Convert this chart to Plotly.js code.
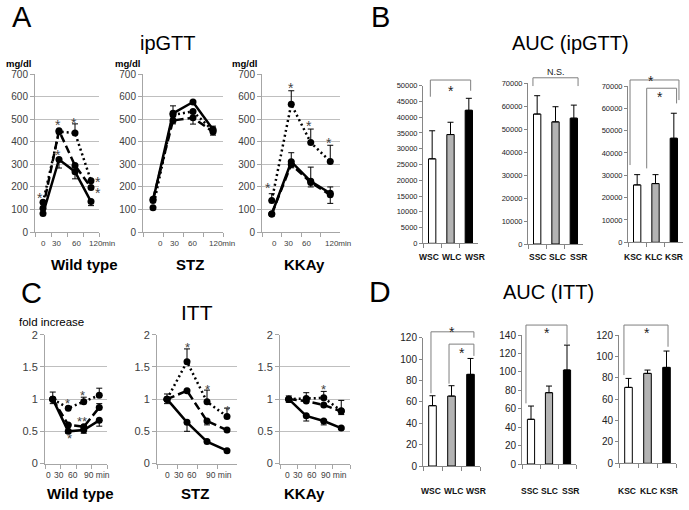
<!DOCTYPE html>
<html><head><meta charset="utf-8">
<script src="https://cdn.plot.ly/plotly-3.0.1.min.js"></script>
<style>html,body{margin:0;padding:0;background:#fff}#chart{width:689px;height:510px}</style>
</head><body><div id="chart"></div>
<script>
const W = 689, H = 510;
const FONT = 'Liberation Sans, Arial, Helvetica, sans-serif';

// ---------------- data ----------------
const gttTimes = ['0', '30', '60', '120'];
const ittTimes = ['0', '30', '60', '90'];
const gttTickText = ['0', '30', '60', '120min'];
const ittTickText = ['0', '30', '60', '90 min'];
const strainNames = ['Wild type', 'STZ', 'KKAy'];
const groupsWT = ['WSC', 'WLC', 'WSR'];
const groupsSTZ = ['SSC', 'SLC', 'SSR'];
const groupsKK = ['KSC', 'KLC', 'KSR'];
const none4 = [0, 0, 0, 0];

// ipGTT blood glucose (mg/dl): SC solid, LC dashed, SR dotted
const gttWT_SC = [82, 322, 268, 135];   const gttWT_SC_dn = [0, 38, 32, 18];
const gttWT_LC = [105, 450, 295, 198];
const gttWT_SR = [132, 445, 440, 228];  const gttWT_SR_up = [0, 0, 40, 0];
const gttSTZ_SC = [140, 527, 577, 455]; const gttSTZ_SC_up = [0, 33, 0, 15];
const gttSTZ_LC = [145, 495, 507, 445]; const gttSTZ_LC_dn = [0, 15, 28, 15];
const gttSTZ_SR = [108, 520, 535, 450];
const gttKK_SC = [80, 312, 225, 172];   const gttKK_SC_up = [0, 40, 0, 28];
const gttKK_LC = [80, 300, 220, 165];   const gttKK_LC_up = [0, 0, 68, 0]; const gttKK_LC_dn = [0, 15, 20, 38];
const gttKK_SR = [140, 567, 397, 313];  const gttKK_SR_up = [30, 60, 60, 72];

// ITT fold increase
const ittWT_SC = [1.0, 0.50, 0.52, 0.67];  const ittWT_SC_dn = [0.07, 0.03, 0.05, 0.09];
const ittWT_LC = [1.0, 0.60, 0.57, 0.87];  const ittWT_LC_up = [0, 0, 0, 0.06];
const ittWT_SR = [1.0, 0.86, 0.96, 1.06];  const ittWT_SR_up = [0.11, 0, 0.07, 0.11];
const ittSTZ_SC = [1.0, 0.64, 0.34, 0.20]; const ittSTZ_SC_up = [0.08, 0, 0, 0]; const ittSTZ_SC_dn = [0.07, 0.14, 0, 0];
const ittSTZ_LC = [1.0, 1.13, 0.66, 0.52]; const ittSTZ_LC_dn = [0, 0, 0.06, 0];
const ittSTZ_SR = [1.0, 1.58, 0.96, 0.73]; const ittSTZ_SR_up = [0, 0.20, 0.18, 0.13];
const ittKK_SC = [1.0, 0.74, 0.66, 0.55];  const ittKK_SC_dn = [0.05, 0.08, 0.06, 0.02];
const ittKK_LC = [1.0, 0.97, 0.91, 0.81];  const ittKK_LC_dn = [0, 0, 0, 0.05];
const ittKK_SR = [1.0, 1.01, 1.02, 0.82];  const ittKK_SR_up = [0.05, 0.09, 0.10, 0.16];

// AUC values and upper error
const aucGttWT = [26800, 34500, 42200];  const aucGttWT_err = [8900, 3900, 3800];
const aucGttSTZ = [56600, 53200, 54800]; const aucGttSTZ_err = [8000, 6600, 5700];
const aucGttKK = [25700, 26300, 46600];  const aucGttKK_err = [4600, 4000, 11200];
const aucIttWT = [56.4, 65.4, 85.7];     const aucIttWT_err = [9.3, 9.7, 14.9];
const aucIttSTZ = [48.5, 77.4, 102];     const aucIttSTZ_err = [14.4, 7.2, 27];
const aucIttKK = [71, 84.1, 89.7];       const aucIttKK_err = [8.4, 3.1, 15.3];

// significance marks: [category index, value, text]
const starsA1 = [[-0.19, 164, '*'], [0.94, 489, '*'], [0.94, 356, '*'], [1.94, 496, '*'], [3.44, 238, '*'], [3.42, 186, '*']];
const starsA3 = [[-0.19, 208, '*'], [0.99, 651, '*'], [1.91, 483, '*'], [2.94, 408, '*']];
const starsC1 = [[0.98, 0.98, '*'], [1.95, 1.10, '*'], [1.89, 0.69, '**'], [1.05, 0.44, '*']];
const starsC2 = [[1.04, 1.85, '*'], [2.04, 1.20, '*'], [3.02, 0.87, '*']];
const starsC3 = [[1.96, 1.19, '*']];
// brackets: [x0, x1, top, leftEnd, rightEnd, labelX, labelY, label]
const sigB1 = [[-0.1, 2.1, 51800, 46500, 48400, 1.0, 49460, '*']];
const sigB2 = [[-0.23, 2.23, 72400, 68800, 68800, 1.0, 74900, 'N.S.']];
const sigB3 = [[-0.39, 2.28, 72700, 34600, 63700, 0.75, 73900, '*'], [0.52, 2.15, 69000, 33100, 62200, 1.24, 66400, '*']];
const sigD1 = [[-0.08, 2.18, 125.5, 68, 120, 1.03, 128, '*'], [0.87, 2.18, 114, 77, 103, 1.55, 108.5, '*']];
const sigD2 = [[-0.28, 2.0, 150.8, 65.8, 129, 0.89, 145.4, '*']];
const sigD3 = [[-0.24, 2.08, 129.3, 82.5, 109, 0.97, 124.7, '*']];

// ---------------- geometry (pixels) ----------------
const geo = {
  1: {x: [35, 99], y: [74, 232], n: 4, max: 700, kind: 'line'},
  2: {x: [143, 223], y: [74, 232], n: 4, max: 700, kind: 'line'},
  3: {x: [262, 340], y: [74, 232], n: 4, max: 700, kind: 'line'},
  4: {x: [423, 478], y: [85.7, 243.3], n: 3, max: 50000, kind: 'bar', dtick: 5000, fs: 7.5},
  5: {x: [528, 583], y: [83.3, 244], n: 3, max: 70000, kind: 'bar', dtick: 10000, fs: 7.5},
  6: {x: [628, 683], y: [86, 242.3], n: 3, max: 70000, kind: 'bar', dtick: 10000, fs: 7.5},
  7: {x: [45, 107], y: [334.5, 463.5], n: 4, max: 2, kind: 'line'},
  8: {x: [157, 237], y: [334.5, 463.5], n: 4, max: 2, kind: 'line'},
  9: {x: [280, 350], y: [334.5, 463.5], n: 4, max: 2, kind: 'line'},
  10: {x: [423, 480], y: [337.7, 466], n: 3, max: 120, kind: 'bar', dtick: 20, fs: 10},
  11: {x: [522, 576], y: [335, 464], n: 3, max: 140, kind: 'bar', dtick: 20, fs: 10},
  12: {x: [619, 676], y: [335, 463.3], n: 3, max: 120, kind: 'bar', dtick: 20, fs: 10}
};
const aid = s => (s === 1 ? '' : String(s));
function P(sub, idx, v) {
  const g = geo[sub];
  const px = g.x[0] + (idx + 0.5) / g.n * (g.x[1] - g.x[0]);
  const py = g.y[1] - v / g.max * (g.y[1] - g.y[0]);
  return [px / W, 1 - py / H];
}

// ---------------- traces ----------------
const traces = [];
const SOLID = {w: 2.5, dash: 'solid'}, DASHED = {w: 2.5, dash: '8px,4px'}, DOTTED = {w: 2.5, dash: '2px,3px'};
function addLines(sub, times, sets) {
  sets.forEach(s => traces.push({
    type: 'scatter', mode: 'lines+markers', x: times, y: s[0],
    xaxis: 'x' + aid(sub), yaxis: 'y' + aid(sub),
    line: {color: '#000', width: s[3].w, dash: s[3].dash},
    marker: {color: '#000', size: 7},
    error_y: {type: 'data', symmetric: false, array: s[1], arrayminus: s[2], color: '#000', thickness: 1, width: 3},
    cliponaxis: false, hoverinfo: 'skip'
  }));
}
addLines(1, gttTimes, [[gttWT_SR, gttWT_SR_up, none4, DOTTED], [gttWT_LC, none4, none4, DASHED], [gttWT_SC, none4, gttWT_SC_dn, SOLID]]);
addLines(2, gttTimes, [[gttSTZ_SR, none4, none4, DOTTED], [gttSTZ_LC, none4, gttSTZ_LC_dn, DASHED], [gttSTZ_SC, gttSTZ_SC_up, none4, SOLID]]);
addLines(3, gttTimes, [[gttKK_SR, gttKK_SR_up, none4, DOTTED], [gttKK_LC, gttKK_LC_up, gttKK_LC_dn, DASHED], [gttKK_SC, gttKK_SC_up, none4, SOLID]]);
addLines(7, ittTimes, [[ittWT_SR, ittWT_SR_up, none4, DOTTED], [ittWT_LC, ittWT_LC_up, none4, DASHED], [ittWT_SC, none4, ittWT_SC_dn, SOLID]]);
addLines(8, ittTimes, [[ittSTZ_SR, ittSTZ_SR_up, none4, DOTTED], [ittSTZ_LC, none4, ittSTZ_LC_dn, DASHED], [ittSTZ_SC, ittSTZ_SC_up, ittSTZ_SC_dn, SOLID]]);
addLines(9, ittTimes, [[ittKK_SR, ittKK_SR_up, none4, DOTTED], [ittKK_LC, none4, ittKK_LC_dn, DASHED], [ittKK_SC, none4, ittKK_SC_dn, SOLID]]);

const barFill = ['#ffffff', '#b3b3b3', '#000000'];
function addBars(sub, cats, vals, errs) {
  traces.push({
    type: 'bar', x: cats, y: vals, xaxis: 'x' + aid(sub), yaxis: 'y' + aid(sub), width: 0.4,
    marker: {color: barFill, line: {color: '#000', width: 1}},
    error_y: {type: 'data', symmetric: false, array: errs, arrayminus: [0, 0, 0], color: '#000', thickness: 1, width: 3},
    hoverinfo: 'skip'
  });
}
addBars(4, groupsWT, aucGttWT, aucGttWT_err);
addBars(5, groupsSTZ, aucGttSTZ, aucGttSTZ_err);
addBars(6, groupsKK, aucGttKK, aucGttKK_err);
addBars(10, groupsWT, aucIttWT, aucIttWT_err);
addBars(11, groupsSTZ, aucIttSTZ, aucIttSTZ_err);
addBars(12, groupsKK, aucIttKK, aucIttKK_err);

// ---------------- layout ----------------
const layout = {
  width: W, height: H, margin: {l: 0, r: 0, t: 0, b: 0},
  paper_bgcolor: '#fff', plot_bgcolor: 'rgba(0,0,0,0)', showlegend: false, hovermode: false,
  font: {family: FONT, color: '#000'}, annotations: [], shapes: []
};
Object.keys(geo).forEach(k => {
  const s = +k, g = geo[s], id = aid(s);
  const xd = [g.x[0] / W, g.x[1] / W], yd = [1 - g.y[1] / H, 1 - g.y[0] / H];
  if (g.kind === 'line') {
    layout['xaxis' + id] = {domain: xd, anchor: 'y' + id, type: 'category', range: [-0.5, 3.5],
      showgrid: false, zeroline: false, showline: true, linecolor: '#a6a6a6', linewidth: 1,
      ticks: 'outside', tickson: 'boundaries', ticklen: 4, tickcolor: '#a6a6a6', showticklabels: false, fixedrange: true};
    layout['yaxis' + id] = {domain: yd, anchor: 'x' + id, range: [0, g.max * 1.002], dtick: g.max === 700 ? 100 : 0.5,
      showgrid: true, gridcolor: '#bfbfbf', gridwidth: 1, zeroline: false, showline: true, linecolor: '#a6a6a6',
      ticks: 'outside', ticklen: 4, tickcolor: '#a6a6a6', tickfont: {size: g.max === 700 ? 10 : 11, color: '#404040'}, fixedrange: true};
  } else {
    layout['xaxis' + id] = {domain: xd, anchor: 'y' + id, type: 'category', range: [-0.5, 2.5],
      showgrid: false, zeroline: false, showline: true, linecolor: '#868686', linewidth: 1,
      ticks: 'outside', tickson: 'boundaries', ticklen: 4, tickcolor: '#868686', showticklabels: false, fixedrange: true};
    layout['yaxis' + id] = {domain: yd, anchor: 'x' + id, range: [0, g.max], dtick: g.dtick, tickformat: 'd',
      showgrid: false, zeroline: false, showline: true, linecolor: '#868686',
      ticks: 'outside', ticklen: 3, tickcolor: '#868686', tickfont: {size: g.fs, color: '#222'}, fixedrange: true};
  }
});

function txt(text, px, py, size, o) {
  o = o || {};
  layout.annotations.push({xref: 'paper', yref: 'paper', x: px / W, y: 1 - py / H, text: text, showarrow: false,
    xanchor: o.anchor || 'center', yanchor: 'middle',
    font: {family: FONT, size: size, color: o.color || '#000', weight: o.bold ? 'bold' : 'normal'}});
}
function markAt(sub, idx, v, text, size, color) {
  const p = P(sub, idx, v);
  layout.annotations.push({xref: 'paper', yref: 'paper', x: p[0], y: p[1], text: text, showarrow: false,
    xanchor: 'center', yanchor: 'middle', yshift: text === '*' || text === '**' ? -0.23 * size : 0,
    font: {family: FONT, size: size, color: color}});
}
function sig(sub, list) {
  list.forEach(b => {
    const a = P(sub, b[0], b[3]), t0 = P(sub, b[0], b[2]), t1 = P(sub, b[1], b[2]), d = P(sub, b[1], b[4]);
    layout.shapes.push({type: 'path', xref: 'paper', yref: 'paper',
      path: `M${a[0]},${a[1]} L${t0[0]},${t0[1]} L${t1[0]},${t1[1]} L${d[0]},${d[1]}`,
      line: {color: '#7f7f7f', width: 1}});
    markAt(sub, b[5], b[6], b[7], b[7] === '*' ? 14 : 9, '#222');
  });
}

// panel letters & titles
txt('A', 21.5, 17.5, 29); txt('B', 380, 17.5, 29); txt('C', 31.5, 293, 29); txt('D', 380, 291, 30);
txt('ipGTT', 167.5, 42.5, 20); txt('AUC (ipGTT)', 570, 43, 20);
txt('ITT', 196.5, 312.5, 21); txt('AUC (ITT)', 548, 292, 20);
txt('mg/dl', 4, 63, 9.5, {anchor: 'left', bold: true});
txt('mg/dl', 113, 63, 9.5, {anchor: 'left', bold: true});
txt('mg/dl', 230, 63, 9.5, {anchor: 'left', bold: true});
txt('fold increase', 17, 322, 11.5, {anchor: 'left'});
const strainXA = [84, 190, 304], strainXC = [80, 195, 304];
strainNames.forEach((s, i) => { txt(s, strainXA[i], 264.5, 15, {bold: true}); txt(s, strainXC[i], 493, 15, {bold: true}); });
// time tick labels
const tickPosA = [[43, 56, 76, 102], [160, 174, 192.5, 221.5], [274, 288, 306, 338]];
const tickPosC = [[48, 59, 72.5, 97], [167, 179, 192, 219], [287, 298, 312, 334]];
tickPosA.forEach(row => row.forEach((x, i) => txt(gttTickText[i], x, 243.3, 8, {color: '#404040'})));
tickPosC.forEach(row => row.forEach((x, i) => txt(ittTickText[i], x, 475, 8.5, {color: '#404040'})));
// group labels under the bar panels
const groupRows = [groupsWT, groupsSTZ, groupsKK];
const groupXB = [[429, 452, 475], [537.5, 557.5, 578], [633, 653.5, 674]];
const groupXD = [[431, 453.5, 476], [529, 549.5, 570], [627, 648, 669]];
groupRows.forEach((g, r) => g.forEach((lab, i) => {
  txt(lab, groupXB[r][i], 257, 8.5, {bold: true, color: '#111'});
  txt(lab, groupXD[r][i], 491, 8.5, {bold: true, color: '#111'});
}));
// stars
starsA1.forEach(s => markAt(1, s[0], s[1], s[2], 14, '#444'));
starsA3.forEach(s => markAt(3, s[0], s[1], s[2], 14, '#444'));
starsC1.forEach(s => markAt(7, s[0], s[1], s[2], 13, '#444'));
starsC2.forEach(s => markAt(8, s[0], s[1], s[2], 13, '#444'));
starsC3.forEach(s => markAt(9, s[0], s[1], s[2], 13, '#444'));
sig(4, sigB1); sig(5, sigB2); sig(6, sigB3); sig(10, sigD1); sig(11, sigD2); sig(12, sigD3);

Plotly.newPlot('chart', traces, layout, {staticPlot: true, displayModeBar: false});
</script></body></html>
